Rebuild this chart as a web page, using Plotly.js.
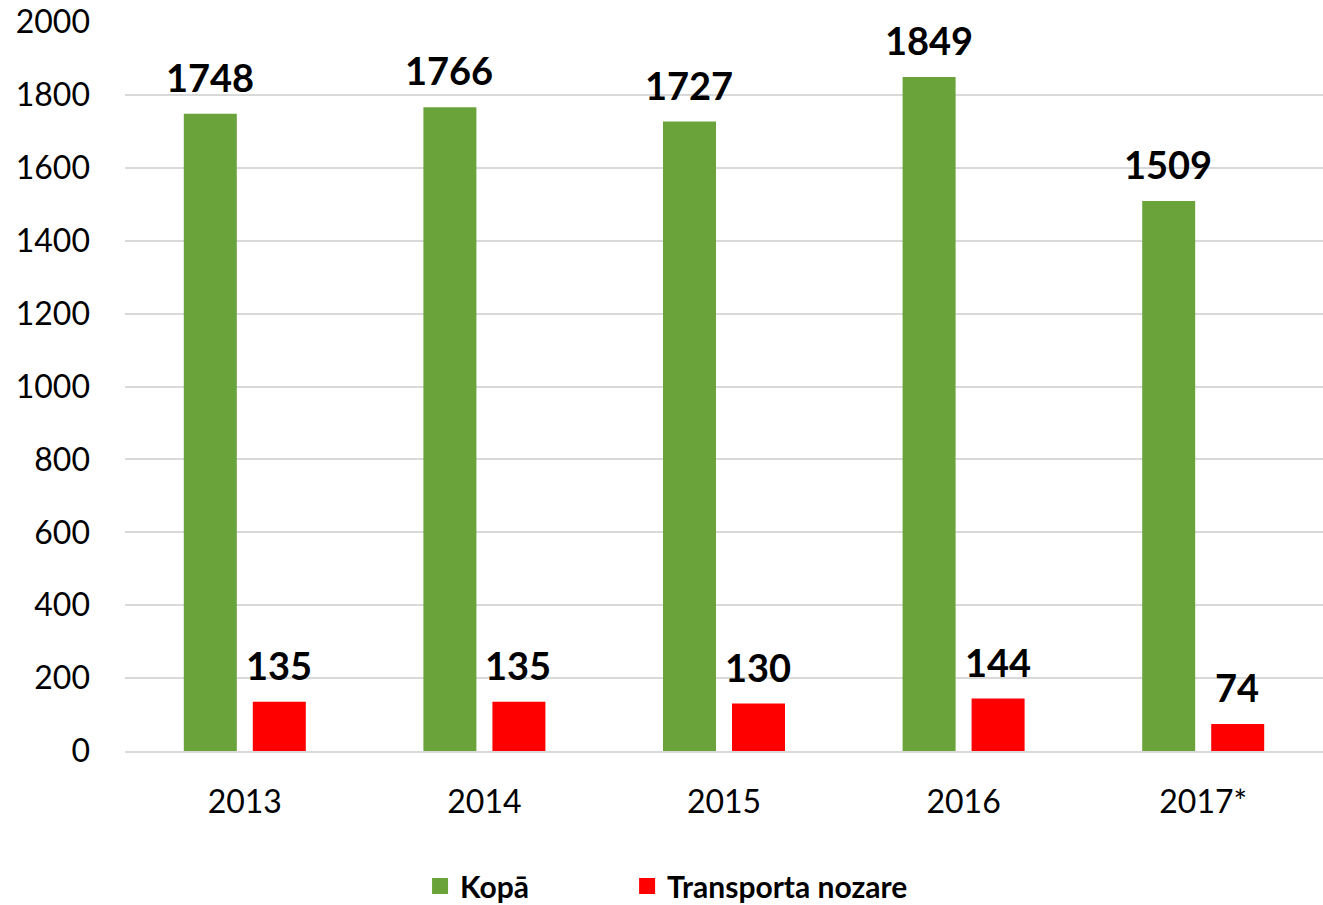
<!DOCTYPE html>
<html>
<head>
<meta charset="utf-8">
<script src="https://cdn.plot.ly/plotly-3.0.1.min.js"></script>
<style>html,body{margin:0;padding:0;background:#fff;}#chart{width:1323px;height:905px;}</style>
</head>
<body>
<div id="chart"></div>
<script>
const years = ["2013", "2014", "2015", "2016", "2017*"];
const kopa = [1748, 1766, 1727, 1849, 1509];
const transports = [135, 135, 130, 144, 74];
const seriesNames = ["Kopā", "Transporta nozare"];
const yTicks = [0, 200, 400, 600, 800, 1000, 1200, 1400, 1600, 1800, 2000];

const FONT = "Lato, 'Open Sans', sans-serif";
const GREEN = "#6aa33a";
const RED = "#ff0000";

const traces = [
  {type: "bar", name: seriesNames[0], x: years, y: kopa, marker: {color: GREEN}, hoverinfo: "x+y", showlegend: false},
  {type: "bar", name: seriesNames[1], x: years, y: transports, marker: {color: RED}, hoverinfo: "x+y", showlegend: false},
  {type: "scatter", mode: "markers", name: seriesNames[0], x: [null], y: [null], legend: "legend",
    marker: {symbol: "square", size: 17, color: GREEN}, hoverinfo: "skip"},
  {type: "scatter", mode: "markers", name: seriesNames[1], x: [null], y: [null], legend: "legend2",
    marker: {symbol: "square", size: 17, color: RED}, hoverinfo: "skip"}
];

const annotations = [];
years.forEach((yr, i) => {
  annotations.push({x: i, y: kopa[i], xref: "x", yref: "y", text: "<b>" + kopa[i] + "</b>",
    showarrow: false, xanchor: "center", yanchor: "bottom", xshift: -35, yshift: 12,
    font: {family: FONT, size: 38, color: "#000"}});
  annotations.push({x: i, y: transports[i], xref: "x", yref: "y", text: "<b>" + transports[i] + "</b>",
    showarrow: false, xanchor: "center", yanchor: "bottom", xshift: 34, yshift: 12,
    font: {family: FONT, size: 38, color: "#000"}});
});

const legendFont = {family: FONT, size: 30, color: "#000", weight: "bold"};
const layout = {
  width: 1323, height: 905,
  margin: {l: 125, r: 0, t: 22, b: 154},
  paper_bgcolor: "#fff", plot_bgcolor: "#fff",
  font: {family: FONT, color: "#000"},
  barmode: "group",
  bargap: 0.424,
  bargroupgap: 0.232,
  showlegend: true,
  legend: {orientation: "h", xref: "container", yref: "container", x: 0.3175, xanchor: "left", y: 0.021, yanchor: "middle",
    font: legendFont, itemclick: false, itemdoubleclick: false, bgcolor: "rgba(0,0,0,0)"},
  legend2: {orientation: "h", xref: "container", yref: "container", x: 0.474, xanchor: "left", y: 0.021, yanchor: "middle",
    font: legendFont, itemclick: false, itemdoubleclick: false, bgcolor: "rgba(0,0,0,0)"},
  xaxis: {type: "category", range: [-0.5, 4.5], automargin: false, tickfont: {family: FONT, size: 32, color: "#000"}, ticks: "", ticklabelstandoff: 22,
    showline: true, linecolor: "#d9d9d9", linewidth: 2, showgrid: false, zeroline: false, fixedrange: true},
  yaxis: {range: [0, 2000], automargin: false, tickvals: yTicks, ticktext: yTicks.map(String), tickfont: {family: FONT, size: 32, color: "#000"},
    ticks: "", ticklabelstandoff: 34, showgrid: true, gridcolor: "#d9d9d9", gridwidth: 2, zeroline: false, showline: false, fixedrange: true},
  annotations: annotations
};

Plotly.newPlot("chart", traces, layout, {displayModeBar: false});
</script>
</body>
</html>
